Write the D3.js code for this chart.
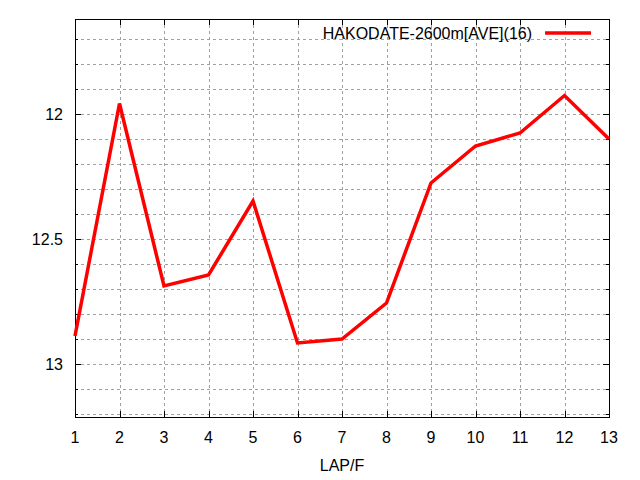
<!DOCTYPE html>
<html><head><meta charset="utf-8">
<script src="https://cdn.jsdelivr.net/npm/d3@7"></script>
<style>body{margin:0;background:#fff}svg{display:block}text{font-family:"Liberation Sans",Arial,sans-serif;fill:#000}</style>
</head><body><svg id="c" width="640" height="480"></svg>
<script>
const laps = [1,2,3,4,5,6,7,8,9,10,11,12,13];
const times = [12.888,11.958,12.688,12.644,12.348,12.916,12.9,12.756,12.276,12.128,12.076,11.926,12.1];
const yMajor = [12,12.5,13];
const yMinor = [11.7,11.8,11.9,12,12.1,12.2,12.3,12.4,12.5,12.6,12.7,12.8,12.9,13,13.1,13.2];
const seriesName = "HAKODATE-2600m[AVE](16)";
const xLabel = "LAP/F";

const svg = d3.select("#c");
const L=75,R=609,T=19,B=417;
const x = d3.scaleLinear().domain([1,13]).range([L,R]);
const y = d3.scaleLinear().domain([11.62,13.212]).range([T,B]);

const g = svg.append("g");
// grid
g.selectAll(".gy").data(yMinor).enter().append("line")
 .attr("x1",L).attr("x2",R).attr("y1",d=>Math.round(y(d))+0.5).attr("y2",d=>Math.round(y(d))+0.5)
 .attr("stroke","#a0a0a0").attr("stroke-width",1).attr("stroke-dasharray","3,3");
g.selectAll(".gx").data(laps.slice(1,-1)).enter().append("line")
 .attr("y1",T).attr("y2",B).attr("x1",d=>Math.round(x(d))+0.5).attr("x2",d=>Math.round(x(d))+0.5)
 .attr("stroke","#a0a0a0").attr("stroke-width",1).attr("stroke-dasharray","3,3");

// ticks
const tk = svg.append("g").attr("stroke","#000").attr("stroke-width",1);
yMinor.forEach(v=>{
  const yy=Math.round(y(v))+0.5, len = yMajor.includes(v)?6:3;
  tk.append("line").attr("x1",L).attr("x2",L+len).attr("y1",yy).attr("y2",yy);
  tk.append("line").attr("x1",R).attr("x2",R-len).attr("y1",yy).attr("y2",yy);
});
laps.forEach(v=>{
  const xx=Math.round(x(v))+0.5;
  tk.append("line").attr("x1",xx).attr("x2",xx).attr("y1",B).attr("y2",B-6);
  tk.append("line").attr("x1",xx).attr("x2",xx).attr("y1",T).attr("y2",T+6);
});
// border
svg.append("rect").attr("x",L+0.5).attr("y",T+0.5).attr("width",R-L).attr("height",B-T)
 .attr("fill","none").attr("stroke","#000").attr("stroke-width",1);

// labels
svg.selectAll(".yl").data(yMajor).enter().append("text")
 .attr("x",63).attr("y",d=>y(d)).attr("dy","0.35em").attr("text-anchor","end")
 .attr("font-size",16).text(d=>d);
svg.selectAll(".xl").data(laps).enter().append("text")
 .attr("x",d=>x(d)).attr("y",443).attr("text-anchor","middle")
 .attr("font-size",16).text(d=>d);
svg.append("text").attr("x",342).attr("y",471).attr("text-anchor","middle").attr("font-size",16).text(xLabel);

// line
svg.append("path").datum(laps.map((l,i)=>[l,times[i]]))
 .attr("d",d3.line().x(d=>x(d[0])).y(d=>y(d[1])))
 .attr("fill","none").attr("stroke","#ff0000").attr("stroke-width",3.5).attr("stroke-linejoin","miter");

// legend
svg.append("text").attr("x",532).attr("y",33).attr("dy","0.35em").attr("text-anchor","end").attr("font-size",16).text(seriesName);
svg.append("line").attr("x1",545).attr("x2",591).attr("y1",33).attr("y2",33).attr("stroke","#ff0000").attr("stroke-width",3.5);
</script></body></html>
